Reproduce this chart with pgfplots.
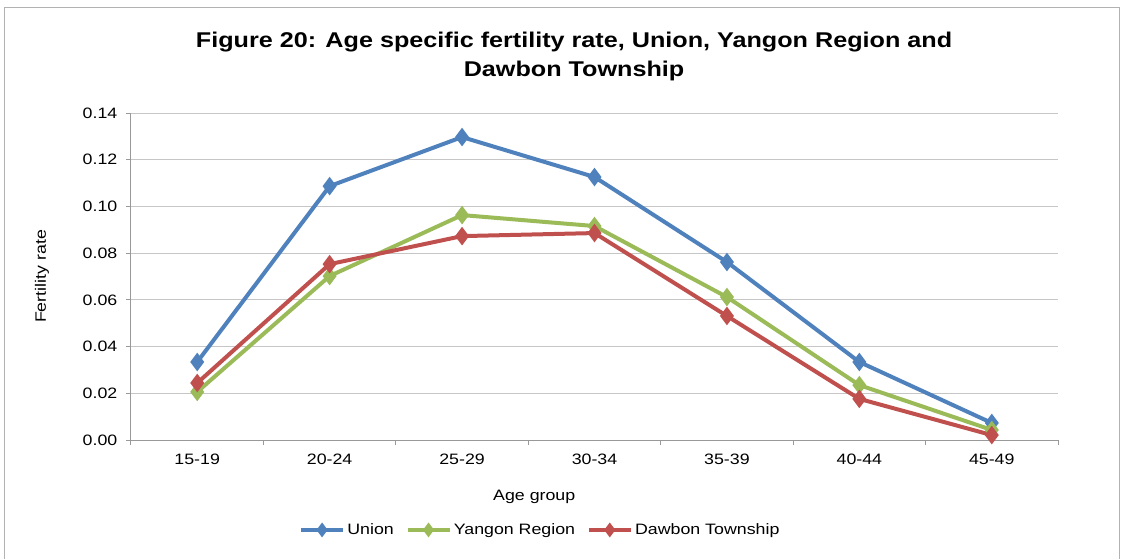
\documentclass[border=0pt]{standalone}
\usepackage{fontspec}
\setmainfont{Liberation Sans}[FakeStretch=1.18]
\usepackage{pgfplots}
\pgfplotsset{compat=1.18}
\definecolor{cU}{HTML}{4F81BD}
\definecolor{cY}{HTML}{9BBB59}
\definecolor{cD}{HTML}{C0504D}
\begin{document}
\begin{tikzpicture}[x=0.75pt,y=-0.75pt]
\useasboundingbox (0,0) rectangle (1128,558);
\draw[gray!60, line width=0.75pt] (4,565) -- (4,7) -- (1119,7) -- (1119,565);
\node[font=\bfseries\fontsize{16}{19}\selectfont] at (574,42) {Figure 20: Age specific fertility rate, Union, Yangon Region and};
\node[font=\bfseries\fontsize{16}{19}\selectfont] at (574,71) {Dawbon Township};
\begin{axis}[
  at={(98.25pt,-330pt)}, anchor=south west,
  scale only axis, width=695.25pt, height=245.25pt,
  xmin=-0.5, xmax=6.5, ymin=0, ymax=0.14,
  xtick={0,1,2,3,4,5,6},
  xticklabels={15-19,20-24,25-29,30-34,35-39,40-44,45-49},
  minor xtick={-0.5,0.5,1.5,2.5,3.5,4.5,5.5,6.5},
  ytick={0,0.02,0.04,0.06,0.08,0.1,0.12,0.14},
  yticklabel style={/pgf/number format/fixed, /pgf/number format/fixed zerofill, /pgf/number format/precision=2, xshift=-3pt},
  xticklabel style={yshift=-3.5pt},
  /pgf/number format/assume math mode=true,
  ticklabel style={font=\fontsize{11.3}{13}\selectfont},
  ymajorgrids, grid style={gray!45, line width=0.75pt},
  axis x line*=bottom, axis y line*=left,
  axis line style={gray!80, line width=0.75pt},
  tick align=outside,
  major tick length=3.75pt, minor tick length=3.75pt,
  major x tick style={draw=none},
  minor x tick style={gray!80, line width=0.75pt},
  major y tick style={gray!80, line width=0.75pt},
  xlabel={Age group}, ylabel={Fertility rate},
  label style={font=\fontsize{11.3}{13}\selectfont},
  xlabel style={at={(rel axis cs:0.435,-0.174)}, anchor=center},
  ylabel style={at={(rel axis cs:-0.096,0.5)}, anchor=center, rotate=0},
  every axis plot/.append style={line width=3pt, mark=diamond*, mark size=4.5pt, mark options={solid}},
  legend style={at={(rel axis cs:0.442,-0.275)}, anchor=center, draw=none, legend columns=3,
    font=\fontsize{11.3}{13}\selectfont,
    /tikz/every even column/.append style={column sep=7pt}},
  legend image code/.code={\draw[mark repeat=2,mark phase=2, line width=2.5pt, mark size=3.5pt] plot coordinates {(0pt,0pt) (15.75pt,0pt) (31.5pt,0pt)};},
]
\addplot[color=cU] coordinates {(0,0.0334) (1,0.1087) (2,0.1297) (3,0.1126) (4,0.0762) (5,0.0334) (6,0.0073)};
\addlegendentry{Union}
\addplot[color=cY] coordinates {(0,0.0206) (1,0.0702) (2,0.0963) (3,0.0916) (4,0.0612) (5,0.0235) (6,0.0043)};
\addlegendentry{Yangon Region}
\addplot[color=cD] coordinates {(0,0.0244) (1,0.0753) (2,0.0873) (3,0.0886) (4,0.0531) (5,0.0176) (6,0.0021)};
\addlegendentry{Dawbon Township}
\end{axis}
\end{tikzpicture}
\end{document}
